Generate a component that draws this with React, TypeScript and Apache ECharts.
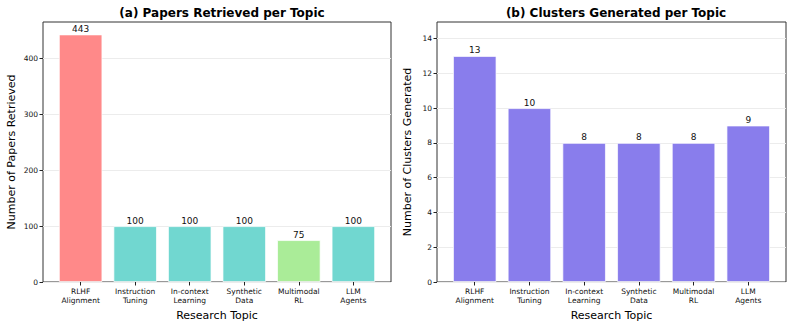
import React, { useEffect, useRef } from "react";
import * as echarts from "echarts";

const categories = [
  "RLHF\nAlignment",
  "Instruction\nTuning",
  "In-context\nLearning",
  "Synthetic\nData",
  "Multimodal\nRL",
  "LLM\nAgents",
];
const papersRetrieved = [443, 100, 100, 100, 75, 100];
const clustersGenerated = [13, 10, 8, 8, 8, 9];
const papersTicks = [0, 100, 200, 300, 400];
const clustersTicks = [0, 2, 4, 6, 8, 10, 12, 14];

const paperColors = ["#FF8989", "#71D7D0", "#71D7D0", "#71D7D0", "#AAEC98", "#71D7D0"];
const clusterColor = "#897DEC";
const FONT = "DejaVu Sans";

export default function App() {
  const ref = useRef<HTMLDivElement>(null);
  useEffect(() => {
    if (!ref.current) return;
    const chart = echarts.init(ref.current, null, { renderer: "svg" });
    const xIdx = categories.map((_, i) => i);
    const xAxisBase = (gridIndex: number) => ({
      type: "value",
      gridIndex,
      min: -0.69,
      max: 5.69,
      axisLine: { show: false, onZero: false },
      splitLine: { show: false },
      axisTick: { show: true, customValues: xIdx, length: 3.5, lineStyle: { color: "#222" } },
      axisLabel: {
        customValues: xIdx,
        formatter: (v: number) => categories[Math.round(v)] ?? "",
        fontSize: 7.5,
        lineHeight: 9,
        color: "#111",
        fontFamily: FONT,
        margin: 5,
      },
      name: "Research Topic",
      nameLocation: "middle",
      nameGap: 26,
      nameTextStyle: { fontSize: 11, color: "#000", fontFamily: FONT },
    });
    const yAxisBase = (gridIndex: number, max: number, ticks: number[], name: string, nameGap: number) => ({
      type: "value",
      gridIndex,
      min: 0,
      max,
      axisLine: { show: false, onZero: false },
      axisTick: { show: true, customValues: ticks, length: 3.5, lineStyle: { color: "#222" } },
      axisLabel: { customValues: ticks, fontSize: 7.5, color: "#111", fontFamily: FONT, margin: 5 },
      splitLine: { show: true, lineStyle: { color: "#ececec", width: 1 } },
      name,
      nameLocation: "middle",
      nameGap,
      nameTextStyle: { fontSize: 11, color: "#000", fontFamily: FONT },
    });
    const labelStyle = {
      show: true,
      position: "top",
      distance: 1,
      fontSize: 9,
      color: "#111",
      fontFamily: FONT,
      formatter: (p: any) => String(p.value[1]),
    };
    chart.setOption({
      animation: false,
      backgroundColor: "#ffffff",
      title: [
        {
          text: "(a) Papers Retrieved per Topic",
          left: 217,
          top: 2,
          textAlign: "center",
          textStyle: { fontSize: 12, fontWeight: "bold", color: "#000", fontFamily: FONT },
        },
        {
          text: "(b) Clusters Generated per Topic",
          left: 611,
          top: 2,
          textAlign: "center",
          textStyle: { fontSize: 12, fontWeight: "bold", color: "#000", fontFamily: FONT },
        },
      ],
      grid: [
        { left: 43, top: 22, width: 348, height: 260, show: true, borderColor: "#333", borderWidth: 1, backgroundColor: "transparent" },
        { left: 437, top: 22, width: 349, height: 260, show: true, borderColor: "#333", borderWidth: 1, backgroundColor: "transparent" },
      ],
      xAxis: [xAxisBase(0), xAxisBase(1)],
      yAxis: [
        yAxisBase(0, 465.15, papersTicks, "Number of Papers Retrieved", 26),
        yAxisBase(1, 14.95, clustersTicks, "Number of Clusters Generated", 24),
      ],
      series: [
        {
          type: "bar",
          xAxisIndex: 0,
          yAxisIndex: 0,
          barWidth: 43.6,
          data: papersRetrieved.map((v, i) => ({
            value: [i, v],
            itemStyle: { color: paperColors[i] },
          })),
          itemStyle: { borderColor: "rgba(255,255,255,0.7)", borderWidth: 1 },
          label: labelStyle,
        },
        {
          type: "bar",
          xAxisIndex: 1,
          yAxisIndex: 1,
          barWidth: 43.6,
          data: clustersGenerated.map((v, i) => ({ value: [i, v] })),
          itemStyle: { color: clusterColor, borderColor: "rgba(255,255,255,0.7)", borderWidth: 1 },
          label: labelStyle,
        },
      ],
    });
    return () => chart.dispose();
  }, []);
  return (
    <div
      ref={ref}
      style={{ position: "fixed", left: 0, top: 0, width: 792, height: 327, background: "#fff" }}
    />
  );
}
